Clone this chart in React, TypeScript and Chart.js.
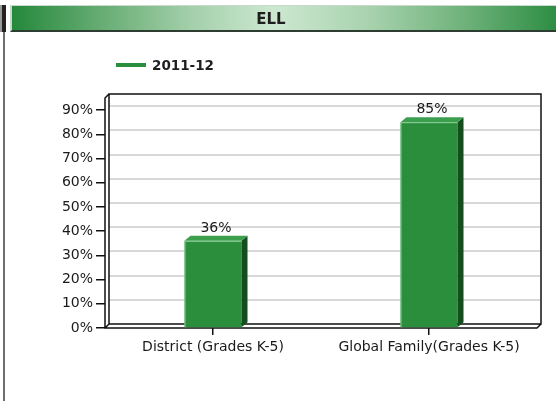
import React, { useEffect, useRef } from "react";
import { Chart, registerables } from "chart.js";

Chart.register(...registerables);

const chartTitle = "ELL";
const categories = ["District (Grades K-5)", "Global Family(Grades K-5)"];
const seriesName = "2011-12";
const values = [36, 85];
const yTickValues = [0, 10, 20, 30, 40, 50, 60, 70, 80, 90];
const yMax = 95;

const FONT = "'DejaVu Sans', Verdana, sans-serif";
const GREEN = "#2a8e3c";
const SIDE = "#164d1e";
const TOPC = "#3c9f4e";
const WALL_DX = 4;
const WALL_DY = 4;
const BAR_DX = 6;
const BAR_DY = 5;

const threeD = {
  id: "threeD",
  beforeDatasetsDraw(chart: any) {
    const { ctx, chartArea, scales } = chart;
    const { left, right, top, bottom } = chartArea;
    const y = scales.y;
    ctx.save();
    ctx.strokeStyle = "#cdcdcd";
    ctx.lineWidth = 1.5;
    for (const t of yTickValues) {
      if (t === 0) continue;
      const py = Math.round(y.getPixelForValue(t)) - WALL_DY;
      ctx.beginPath();
      ctx.moveTo(left + WALL_DX, py);
      ctx.lineTo(right + WALL_DX - 1, py);
      ctx.stroke();
    }
    ctx.strokeStyle = "#111";
    ctx.lineWidth = 1.5;
    ctx.beginPath();
    ctx.moveTo(left + WALL_DX, bottom - WALL_DY);
    ctx.lineTo(left + WALL_DX, top - WALL_DY);
    ctx.lineTo(right + WALL_DX, top - WALL_DY);
    ctx.lineTo(right + WALL_DX, bottom - WALL_DY);
    ctx.lineTo(left + WALL_DX, bottom - WALL_DY);
    ctx.moveTo(left + WALL_DX, top - WALL_DY);
    ctx.lineTo(left, top);
    ctx.lineTo(left, bottom);
    ctx.lineTo(right, bottom);
    ctx.lineTo(right + WALL_DX, bottom - WALL_DY);
    ctx.moveTo(left, bottom);
    ctx.lineTo(left + WALL_DX, bottom - WALL_DY);
    ctx.stroke();
    ctx.restore();
  },
  afterDatasetsDraw(chart: any) {
    const { ctx } = chart;
    const meta = chart.getDatasetMeta(0);
    ctx.save();
    meta.data.forEach((bar: any, i: number) => {
      const { x, y, base, width } = bar.getProps(["x", "y", "base", "width"], true);
      const l = x - width / 2;
      const r = x + width / 2;
      ctx.fillStyle = SIDE;
      ctx.beginPath();
      ctx.moveTo(r, y);
      ctx.lineTo(r + BAR_DX, y - BAR_DY);
      ctx.lineTo(r + BAR_DX, base - BAR_DY);
      ctx.lineTo(r, base);
      ctx.closePath();
      ctx.fill();
      ctx.fillStyle = TOPC;
      ctx.beginPath();
      ctx.moveTo(l, y);
      ctx.lineTo(l + BAR_DX, y - BAR_DY);
      ctx.lineTo(r + BAR_DX, y - BAR_DY);
      ctx.lineTo(r, y);
      ctx.closePath();
      ctx.fill();
      ctx.strokeStyle = "#8fd09a";
      ctx.lineWidth = 1;
      ctx.beginPath();
      ctx.moveTo(l + 0.5, base);
      ctx.lineTo(l + 0.5, y + 0.5);
      ctx.lineTo(r, y + 0.5);
      ctx.stroke();
      ctx.fillStyle = "#1a1a1a";
      ctx.font = "14px " + FONT;
      ctx.textAlign = "center";
      ctx.textBaseline = "alphabetic";
      ctx.fillText(values[i] + "%", x + BAR_DX / 2, y - BAR_DY - 4);
    });
    ctx.restore();
  },
};

export default function App() {
  const ref = useRef<HTMLCanvasElement>(null);
  useEffect(() => {
    if (!ref.current) return;
    const chart = new Chart(ref.current, {
      type: "bar",
      data: {
        labels: categories,
        datasets: [
          {
            label: seriesName,
            data: values,
            backgroundColor: GREEN,
            borderWidth: 0,
            barPercentage: 0.264,
            categoryPercentage: 1,
          },
        ],
      },
      options: {
        responsive: false,
        animation: false,
        layout: { padding: { top: 98, right: 19, bottom: 0, left: 0 } },
        plugins: {
          legend: { display: false },
          tooltip: { enabled: false },
          title: { display: false },
        },
        scales: {
          x: {
            grid: {
              display: true,
              offset: false,
              drawOnChartArea: false,
              drawTicks: true,
              tickLength: 7,
              color: "#111",
              lineWidth: 1.5,
            },
            border: { display: false },
            ticks: {
              color: "#1a1a1a",
              font: { family: FONT, size: 14 },
              padding: 4,
              maxRotation: 0,
              autoSkip: false,
            },
            afterFit(scale: any) {
              scale.height = 73;
            },
          },
          y: {
            min: 0,
            max: yMax,
            grid: {
              display: true,
              drawOnChartArea: false,
              drawTicks: true,
              tickLength: 9,
              color: "#111",
              lineWidth: 1.5,
            },
            border: { display: false },
            ticks: {
              stepSize: 10,
              color: "#1a1a1a",
              font: { family: FONT, size: 14 },
              padding: 3,
              callback: (v: any) => v + "%",
            },
            afterBuildTicks(scale: any) {
              scale.ticks = yTickValues.map((v) => ({ value: v }));
            },
            afterFit(scale: any) {
              scale.width = 105;
            },
          },
        },
      },
      plugins: [threeD],
    });
    return () => chart.destroy();
  }, []);

  return (
    <div style={{ position: "absolute", left: 0, top: 0, width: 556, height: 401, background: "#fff", overflow: "hidden" }}>
      <canvas ref={ref} width={556} height={401} style={{ position: "absolute", left: 0, top: 0 }} />
      <div style={{ position: "absolute", left: 0, top: 5, width: 2, height: 27, background: "#9a9a9a" }} />
      <div style={{ position: "absolute", left: 2, top: 5, width: 4, height: 27, background: "#222" }} />
      <div style={{ position: "absolute", left: 3, top: 32, width: 2, height: 369, background: "#6e6e6e" }} />
      <div
        style={{
          position: "absolute",
          left: 10,
          top: 5,
          width: 560,
          height: 27,
          boxSizing: "border-box",
          borderTop: "1px solid #c9d9cc",
          borderLeft: "2px solid #c9d9cc",
          borderBottom: "2px solid #2e3d31",
          background:
            "linear-gradient(to right, #24883a 0%, #5fa86c 14%, #a3cfaa 32%, #cde8d1 47%, #a8d2ae 64%, #6bb077 82%, #24883a 100%)",
        }}
      />
      <div
        style={{
          position: "absolute",
          left: 220,
          top: 8,
          width: 102,
          height: 22,
          lineHeight: "22px",
          textAlign: "center",
          fontFamily: FONT,
          fontWeight: "bold",
          fontSize: 15,
          color: "#1e1e1e",
        }}
      >
        {chartTitle}
      </div>
      <div style={{ position: "absolute", left: 116, top: 63, width: 30, height: 4, background: GREEN }} />
      <div
        style={{
          position: "absolute",
          left: 152,
          top: 56,
          height: 18,
          lineHeight: "18px",
          fontFamily: FONT,
          fontWeight: "bold",
          fontSize: 13.5,
          color: "#1e1e1e",
        }}
      >
        {seriesName}
      </div>
    </div>
  );
}
